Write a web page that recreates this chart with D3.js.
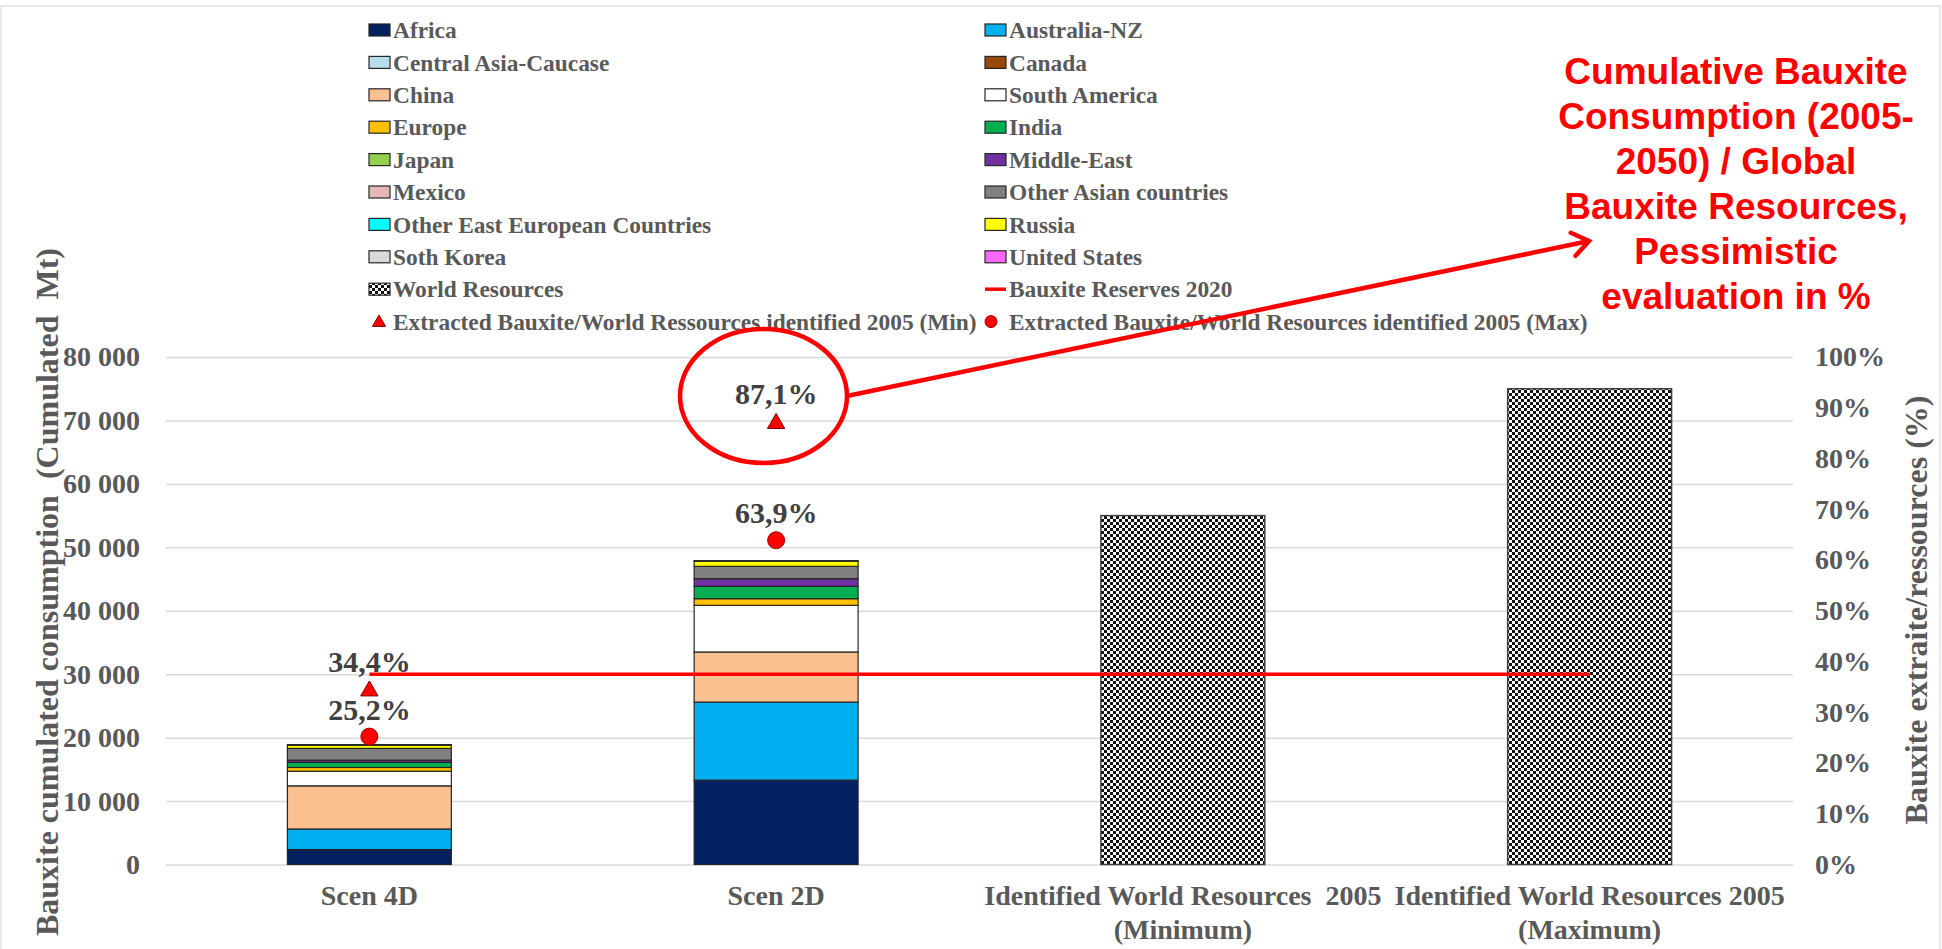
<!DOCTYPE html>
<html>
<head>
<meta charset="utf-8">
<script src="https://cdn.jsdelivr.net/npm/d3@7"></script>
<style>
  body { margin: 0; background: #fff; }
  svg { display: block; font-family: "Liberation Serif", "Times New Roman", serif; font-weight: bold; }
  text { white-space: pre; }
</style>
</head>
<body>
<svg id="chart" width="1942" height="949"></svg>
<script>
// Categories on the x axis (second line of each label after "\n")
const categories = [
  "Scen 4D",
  "Scen 2D",
  "Identified World Resources  2005\n(Minimum)",
  "Identified World Resources 2005\n(Maximum)"
];

// Regions stacked bottom to top
const regions = [
  "Africa", "Australia-NZ", "Central Asia-Caucase", "Canada", "China", "South America",
  "Europe", "India", "Japan", "Middle-East", "Mexico", "Other Asian countries",
  "Other East European Countries", "Russia", "Soth Korea", "United States"
];
const regionColors = [
  "#002060", "#00B0F0", "#B7DEE8", "#984807", "#FAC090", "#FFFFFF",
  "#FFC000", "#00B050", "#92D050", "#7030A0", "#E6B9B8", "#808080",
  "#00FFFF", "#FFFF00", "#D9D9D9", "#FF66FF"
];

// Cumulated bauxite consumption 2005-2050 per region (Mt)
const scen4D = [2350, 3250, 0, 0, 6800, 2300, 600, 800, 0, 350, 0, 1850, 0, 500, 100, 0];
const scen2D = [13300, 12300, 0, 0, 7900, 7350, 1050, 1950, 0, 1200, 0, 1950, 0, 800, 100, 0];

// Identified world resources 2005 (Mt)
const worldResources = [0, 0, 55000, 75000];
// Bauxite reserves 2020 (Mt)
const reserves2020 = 30000;

// Extracted bauxite / identified world resources (%)
const extractedMin = [34.4, 87.1, null, null];
const extractedMax = [25.2, 63.9, null, null];
const extractedMinLabels = ["34,4%", "87,1%", null, null];
const extractedMaxLabels = ["25,2%", "63,9%", null, null];

// Axis ticks
const leftTicks = [0, 10000, 20000, 30000, 40000, 50000, 60000, 70000, 80000];
const rightTicks = [0, 10, 20, 30, 40, 50, 60, 70, 80, 90, 100];

const annotationLines = [
  "Cumulative Bauxite",
  "Consumption (2005-",
  "2050) / Global",
  "Bauxite Resources,",
  "Pessimistic",
  "evaluation in %"
];

const svg = d3.select("#chart");
const plotLeft = 166, plotRight = 1793, plotTop = 357, plotBottom = 864.5;

// Outer chart border
svg.append("rect")
  .attr("x", 1).attr("y", 6).attr("width", 1939).attr("height", 980)
  .attr("fill", "none").attr("stroke", "#D9D9D9").attr("stroke-width", 1.2);

// Checkerboard fill for world resources
const defs = svg.append("defs");
const pat = defs.append("pattern").attr("id", "checker")
  .attr("width", 6).attr("height", 6).attr("patternUnits", "userSpaceOnUse");
pat.append("rect").attr("width", 6).attr("height", 6).attr("fill", "#fff");
pat.append("rect").attr("width", 3).attr("height", 3).attr("fill", "#111");
pat.append("rect").attr("x", 3).attr("y", 3).attr("width", 3).attr("height", 3).attr("fill", "#111");

const x = d3.scalePoint().domain(categories).range([plotLeft, plotRight]).padding(0.5);
const barW = x.step() * 0.403;
const y = d3.scaleLinear().domain([0, 80000]).range([plotBottom, plotTop]);
const yR = d3.scaleLinear().domain([0, 100]).range([plotBottom, plotTop]);

// Gridlines
svg.append("g")
  .attr("transform", `translate(${plotLeft},0)`)
  .call(d3.axisLeft(y).tickValues(leftTicks).tickSize(-(plotRight - plotLeft)).tickFormat(""))
  .call(g => g.select(".domain").remove())
  .call(g => g.selectAll("line").attr("stroke", "#D9D9D9").attr("stroke-width", 1.5));

// Left axis labels
svg.append("g")
  .attr("transform", `translate(${plotLeft},0)`)
  .call(d3.axisLeft(y).tickValues(leftTicks).tickSize(0).tickPadding(26)
    .tickFormat(d => d3.format(",")(d).replace(/,/g, " ")))
  .call(g => g.select(".domain").remove())
  .call(g => g.selectAll("text")
    .attr("fill", "#595959").attr("font-size", 28)
    .attr("font-family", "Liberation Serif").attr("font-weight", "bold"));

// Right axis labels
svg.append("g")
  .attr("transform", `translate(${plotRight},0)`)
  .call(d3.axisRight(yR).tickValues(rightTicks).tickSize(0).tickPadding(22).tickFormat(d => d + "%"))
  .call(g => g.select(".domain").remove())
  .call(g => g.selectAll("text")
    .attr("fill", "#595959").attr("font-size", 28)
    .attr("font-family", "Liberation Serif").attr("font-weight", "bold"));

// Stacked regional bars
const table = categories.map((c, i) => {
  const row = { cat: c };
  regions.forEach((r, k) => {
    row[r] = i === 0 ? scen4D[k] : i === 1 ? scen2D[k] : 0;
  });
  return row;
});
const stacked = d3.stack().keys(regions)(table);
const color = d3.scaleOrdinal().domain(regions).range(regionColors);

stacked.forEach(layer => {
  svg.append("g").selectAll("rect")
    .data(layer.filter(d => d[1] - d[0] > 0))
    .join("rect")
    .attr("x", d => x(d.data.cat) - barW / 2)
    .attr("width", barW)
    .attr("y", d => y(d[1]))
    .attr("height", d => y(d[0]) - y(d[1]))
    .attr("fill", color(layer.key))
    .attr("stroke", "#262626")
    .attr("stroke-width", 1.2);
});

// World resources bars
svg.append("g").selectAll("rect")
  .data(categories.map((c, i) => ({ cat: c, v: worldResources[i] })).filter(d => d.v > 0))
  .join("rect")
  .attr("x", d => x(d.cat) - barW / 2)
  .attr("width", barW)
  .attr("y", d => y(d.v))
  .attr("height", d => y(0) - y(d.v))
  .attr("fill", "url(#checker)")
  .attr("stroke", "#404040")
  .attr("stroke-width", 1.5);

// Reserves 2020 line
svg.append("line")
  .attr("x1", x(categories[0])).attr("x2", x(categories[3]))
  .attr("y1", y(reserves2020)).attr("y2", y(reserves2020))
  .attr("stroke", "#FF0000").attr("stroke-width", 3.5);

// Extracted ratio markers
const tri = d3.symbol().type(d3.symbolTriangle).size(130);
categories.forEach((c, i) => {
  if (extractedMin[i] != null) {
    svg.append("path").attr("d", tri)
      .attr("transform", `translate(${x(c)},${yR(extractedMin[i]) + 1})`)
      .attr("fill", "#FF0000").attr("stroke", "#7F0000").attr("stroke-width", 1);
    svg.append("text").attr("x", x(c)).attr("y", yR(extractedMin[i]) - 18)
      .attr("text-anchor", "middle").attr("font-size", 30).attr("fill", "#404040")
      .text(extractedMinLabels[i]);
  }
  if (extractedMax[i] != null) {
    svg.append("circle").attr("cx", x(c)).attr("cy", yR(extractedMax[i])).attr("r", 8.5)
      .attr("fill", "#FF0000").attr("stroke", "#A00000").attr("stroke-width", 1);
    svg.append("text").attr("x", x(c)).attr("y", yR(extractedMax[i]) - 17)
      .attr("text-anchor", "middle").attr("font-size", 30).attr("fill", "#404040")
      .text(extractedMaxLabels[i]);
  }
});

// Category labels
categories.forEach(c => {
  const lines = c.split("\n");
  const t = svg.append("text").attr("text-anchor", "middle")
    .attr("font-size", 28).attr("fill", "#595959");
  lines.forEach((l, j) => {
    t.append("tspan").attr("x", x(c)).attr("y", 905 + j * 34).text(l);
  });
});

// Axis titles
svg.append("text")
  .attr("transform", "translate(58,248) rotate(-90)")
  .attr("text-anchor", "end").attr("font-size", 32).attr("fill", "#595959")
  .text("Bauxite cumulated consumption  (Cumulated  Mt)");
svg.append("text")
  .attr("transform", "translate(1927,610) rotate(-90)")
  .attr("text-anchor", "middle").attr("font-size", 32).attr("fill", "#595959")
  .text("Bauxite extraite/ressources (%)");

// Legend
const legendItems = regions.map((r, k) => ({ name: r, kind: "rect", fill: regionColors[k] }));
legendItems.push({ name: "World Resources", kind: "rect", fill: "url(#checker)" });
legendItems.push({ name: "Bauxite Reserves 2020", kind: "line" });
legendItems.push({ name: "Extracted Bauxite/World Ressources identified 2005 (Min)", kind: "tri" });
legendItems.push({ name: "Extracted Bauxite/World Resources identified 2005 (Max)", kind: "dot" });

const colX = [369, 985];
const legend = svg.append("g");
legendItems.forEach((it, i) => {
  const col = i % 2, row = Math.floor(i / 2);
  const lx = colX[col], ly = 30 + row * 32.4;
  const g = legend.append("g");
  if (it.kind === "rect") {
    g.append("rect").attr("x", lx).attr("y", ly - 6).attr("width", 21).attr("height", 12)
      .attr("fill", it.fill).attr("stroke", "#262626").attr("stroke-width", 1.2);
  } else if (it.kind === "line") {
    g.append("line").attr("x1", lx).attr("x2", lx + 21).attr("y1", ly).attr("y2", ly)
      .attr("stroke", "#FF0000").attr("stroke-width", 3.5);
  } else if (it.kind === "tri") {
    g.append("path").attr("d", d3.symbol().type(d3.symbolTriangle).size(75))
      .attr("transform", `translate(${lx + 10},${ly + 1})`)
      .attr("fill", "#FF0000").attr("stroke", "#7F0000").attr("stroke-width", 1);
  } else {
    g.append("circle").attr("cx", lx + 6).attr("cy", ly).attr("r", 6)
      .attr("fill", "#FF0000").attr("stroke", "#A00000").attr("stroke-width", 1);
  }
  g.append("text").attr("x", lx + 24).attr("y", ly).attr("dy", "0.35em")
    .attr("font-size", 23.4).attr("fill", "#595959").text(it.name);
});

// Highlight ellipse and arrow to the note
const ann = svg.append("g").attr("stroke", "#FF0000").attr("fill", "none").attr("stroke-width", 4.5);
ann.append("ellipse").attr("cx", 763.5).attr("cy", 396).attr("rx", 83.5).attr("ry", 67);
const ax0 = 847, ay0 = 396, ax1 = 1589, ay1 = 241;
ann.append("line").attr("x1", ax0).attr("y1", ay0).attr("x2", ax1).attr("y2", ay1);
const ang = Math.atan2(ay1 - ay0, ax1 - ax0);
const headLen = 20, spread = Math.PI / 5;
ann.append("path")
  .attr("d", `M${ax1 - headLen * Math.cos(ang - spread)},${ay1 - headLen * Math.sin(ang - spread)}L${ax1},${ay1}L${ax1 - headLen * Math.cos(ang + spread)},${ay1 - headLen * Math.sin(ang + spread)}`)
  .attr("stroke-linejoin", "miter").attr("stroke-linecap", "round");

const note = svg.append("text").attr("text-anchor", "middle")
  .attr("font-family", "Liberation Sans, Arial, sans-serif").attr("font-weight", "bold")
  .attr("font-size", 37).attr("fill", "#FF0000");
annotationLines.forEach((l, j) => {
  note.append("tspan").attr("x", 1736).attr("y", 84 + j * 45).text(l);
});
</script>
</body>
</html>
